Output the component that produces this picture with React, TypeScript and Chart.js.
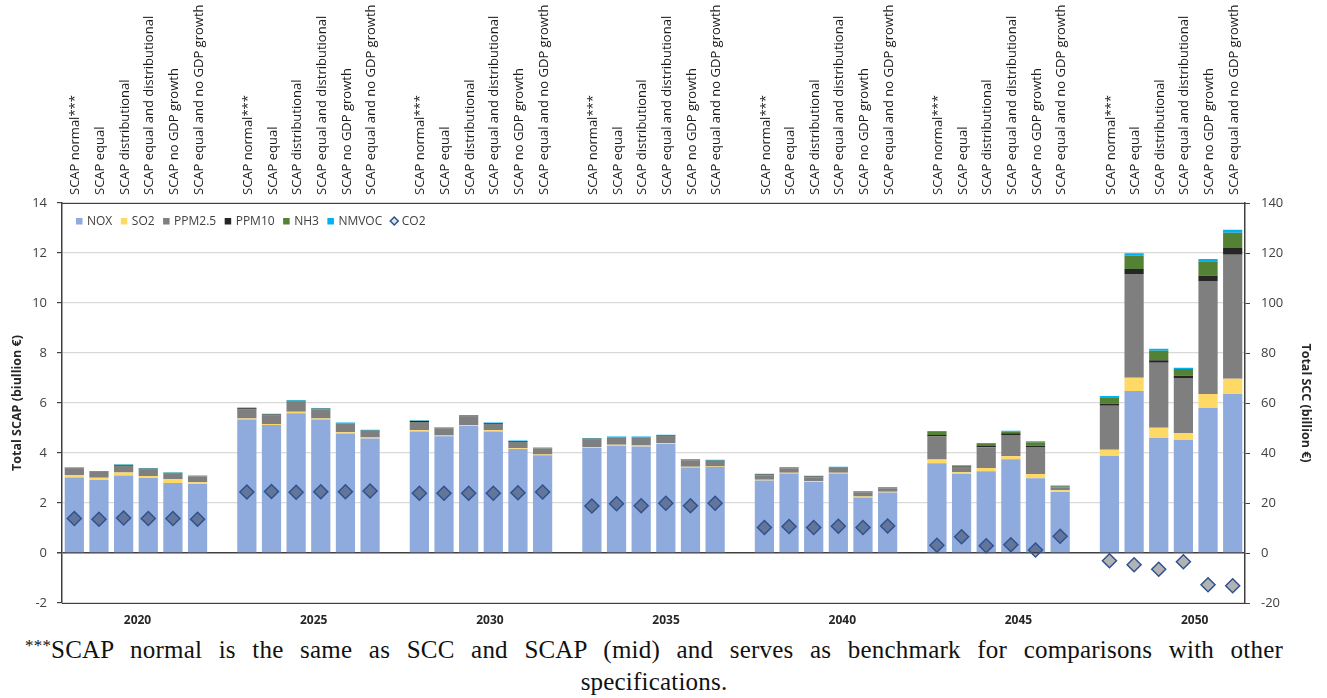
import React, { useEffect, useRef } from "react";
import { Chart, registerables } from "chart.js";

Chart.register(...registerables);

// ---- data ----
const groupYears = ["2020", "2025", "2030", "2035", "2040", "2045", "2050"];
const scenarios = [
  "SCAP normal***",
  "SCAP equal",
  "SCAP distributional",
  "SCAP equal and distributional",
  "SCAP no GDP growth",
  "SCAP equal and no GDP growth",
];

// values per year group (6 scenarios each), billion €
const nox = [
  3.02, 2.92, 3.10, 3.00, 2.80, 2.76,
  5.34, 5.12, 5.59, 5.34, 4.78, 4.58,
  4.86, 4.67, 5.08, 4.86, 4.16, 3.91,
  4.20, 4.29, 4.26, 4.36, 3.42, 3.44,
  2.90, 3.18, 2.84, 3.18, 2.22, 2.42,
  3.59, 3.17, 3.27, 3.75, 2.99, 2.44,
  3.88, 6.48, 4.60, 4.52, 5.80, 6.36,
];
const so2 = [
  0.10, 0.09, 0.12, 0.08, 0.15, 0.07,
  0.04, 0.04, 0.06, 0.04, 0.05, 0.04,
  0.05, 0.03, 0.04, 0.05, 0.03, 0.03,
  0.04, 0.04, 0.04, 0.04, 0.03, 0.02,
  0.03, 0.03, 0.03, 0.03, 0.04, 0.03,
  0.15, 0.06, 0.13, 0.12, 0.17, 0.07,
  0.25, 0.53, 0.41, 0.28, 0.56, 0.61,
];
const ppm25 = [
  0.26, 0.23, 0.27, 0.26, 0.23, 0.23,
  0.36, 0.34, 0.41, 0.37, 0.35, 0.26,
  0.33, 0.29, 0.34, 0.25, 0.25, 0.24,
  0.30, 0.28, 0.31, 0.28, 0.26, 0.22,
  0.18, 0.18, 0.16, 0.19, 0.17, 0.14,
  0.92, 0.21, 0.83, 0.85, 1.08, 0.12,
  1.76, 4.15, 2.60, 2.20, 4.52, 4.96,
];
const ppm10 = [
  0.02, 0.01, 0.03, 0.03, 0.02, 0.01,
  0.05, 0.04, 0.02, 0.02, 0.01, 0.01,
  0.04, 0.01, 0.03, 0.03, 0.03, 0.01,
  0.03, 0.01, 0.01, 0.02, 0.01, 0.01,
  0.03, 0.01, 0.03, 0.01, 0.01, 0.01,
  0.06, 0.02, 0.05, 0.07, 0.05, 0.02,
  0.08, 0.20, 0.10, 0.09, 0.21, 0.27,
];
const nh3 = [
  0.01, 0.01, 0.01, 0.01, 0.01, 0.01,
  0.01, 0.01, 0.01, 0.01, 0.01, 0.01,
  0.01, 0.01, 0.01, 0.01, 0.01, 0.01,
  0.01, 0.01, 0.01, 0.01, 0.01, 0.01,
  0.01, 0.01, 0.01, 0.01, 0.01, 0.01,
  0.12, 0.02, 0.08, 0.06, 0.14, 0.02,
  0.26, 0.53, 0.38, 0.27, 0.58, 0.61,
];
const nmvoc = [
  0.02, 0.02, 0.02, 0.02, 0.02, 0.02,
  0.02, 0.02, 0.03, 0.02, 0.02, 0.03,
  0.02, 0.02, 0.02, 0.02, 0.02, 0.02,
  0.02, 0.03, 0.03, 0.02, 0.03, 0.03,
  0.02, 0.03, 0.02, 0.03, 0.03, 0.03,
  0.04, 0.03, 0.04, 0.04, 0.04, 0.03,
  0.05, 0.10, 0.08, 0.05, 0.09, 0.12,
];
// CO2 on the right axis (Total SCC, billion €)
const co2 = [
  13.8, 13.5, 14.0, 13.8, 13.8, 13.5,
  24.4, 24.6, 24.3, 24.5, 24.5, 24.8,
  23.9, 23.9, 23.9, 23.9, 24.1, 24.4,
  18.8, 19.7, 18.9, 19.9, 18.9, 19.9,
  10.2, 10.6, 10.2, 10.7, 10.2, 10.8,
  3.1, 6.5, 2.9, 3.3, 1.2, 6.7,
  -3.1, -4.7, -6.5, -3.5, -12.7, -13.1,
];

const leftTicks = { min: -2, max: 14, step: 2 };
const rightTicks = { min: -20, max: 140, step: 20 };

// ---- helpers: one empty slot between year groups ----
const slotLabels: string[] = [];
groupYears.forEach((_, g) => {
  scenarios.forEach((s) => slotLabels.push(s));
  if (g < groupYears.length - 1) slotLabels.push("");
});
function spread(values: number[]): (number | null)[] {
  const out: (number | null)[] = [];
  groupYears.forEach((_, g) => {
    for (let i = 0; i < scenarios.length; i++) out.push(values[g * scenarios.length + i]);
    if (g < groupYears.length - 1) out.push(null);
  });
  return out;
}

const FONT = "'Open Sans', sans-serif";
const TXT = "#404040";

const insideLegend = {
  id: "insideLegend",
  afterDraw(chart: any) {
    const { ctx, chartArea } = chart;
    ctx.save();
    ctx.font = `12px ${FONT}`;
    ctx.textBaseline = "middle";
    let x = chartArea.left + 14;
    const y = chartArea.top + 18;
    chart.data.datasets.forEach((ds: any) => {
      if (ds.type === "line") {
        const r = 4;
        const cx = x + 3.5;
        ctx.beginPath();
        ctx.moveTo(cx - r, y);
        ctx.lineTo(cx, y - r);
        ctx.lineTo(cx + r, y);
        ctx.lineTo(cx, y + r);
        ctx.closePath();
        ctx.fillStyle = "#dfe3ea";
        ctx.fill();
        ctx.lineWidth = 1.5;
        ctx.strokeStyle = ds.borderColor;
        ctx.stroke();
      } else {
        ctx.fillStyle = ds.backgroundColor;
        ctx.fillRect(x, y - 3, 6.5, 6.5);
      }
      ctx.fillStyle = TXT;
      ctx.fillText(ds.label, x + 11, y + 0.5);
      x += 11 + ctx.measureText(ds.label).width + 8.5;
    });
    ctx.restore();
  },
};

function barSet(label: string, values: number[], color: string) {
  return {
    type: "bar" as const,
    label,
    data: spread(values),
    backgroundColor: color,
    borderWidth: 0,
    xAxisID: "x",
    yAxisID: "y",
    barPercentage: 0.78,
    categoryPercentage: 1.0,
    order: 1,
  };
}

export default function App() {
  const ref = useRef<HTMLCanvasElement>(null);
  useEffect(() => {
    document.body.style.margin = "0";
    document.body.style.overflow = "hidden";
    const chart = new Chart(ref.current as HTMLCanvasElement, {
      data: {
        labels: slotLabels,
        datasets: [
          barSet("NOX", nox, "#8faadc"),
          barSet("SO2", so2, "#ffd966"),
          barSet("PPM2.5", ppm25, "#7f7f7f"),
          barSet("PPM10", ppm10, "#262626"),
          barSet("NH3", nh3, "#548235"),
          barSet("NMVOC", nmvoc, "#00b0f0"),
          {
            type: "line" as const,
            label: "CO2",
            data: spread(co2),
            showLine: false,
            pointStyle: "rectRot",
            pointRadius: 7,
            pointHoverRadius: 7,
            backgroundColor: "rgba(0,0,0,0.3)",
            borderColor: "#2f528f",
            borderWidth: 1.5,
            xAxisID: "x",
            yAxisID: "y1",
            order: 0,
          },
        ],
      } as any,
      options: {
        responsive: false,
        animation: false,
        layout: { padding: { left: 6, right: 10, top: 0, bottom: 0 } },
        plugins: { legend: { display: false }, tooltip: { enabled: false } },
        scales: {
          x: {
            type: "category",
            position: "top",
            stacked: true,
            grid: { display: false, drawTicks: false },
            border: { display: true, color: "#404040", width: 1 },
            ticks: {
              autoSkip: false,
              minRotation: 90,
              maxRotation: 90,
              padding: 8,
              labelOffset: 17,
              color: "#1a1a1a",
              font: { family: FONT, size: 13 },
            },
            afterFit: (s: any) => { s.height = 203; },
          },
          xb: {
            type: "category",
            position: "bottom",
            grid: { display: false, drawTicks: false },
            border: { display: true, color: "#404040", width: 1 },
            ticks: {
              autoSkip: false,
              maxRotation: 0,
              minRotation: 0,
              padding: 10,
              color: "#262626",
              font: { family: FONT, size: 12, weight: "bold" },
              callback: (_v: any, i: number) =>
                i % (scenarios.length + 1) === 3 ? groupYears[Math.floor(i / (scenarios.length + 1))] : "",
            },
            afterFit: (s: any) => { s.height = 31; },
          },
          y: {
            position: "left",
            stacked: true,
            min: leftTicks.min,
            max: leftTicks.max,
            ticks: { stepSize: leftTicks.step, padding: 10, color: TXT, font: { family: FONT, size: 13 } },
            grid: {
              color: (c: any) => (c.tick && c.tick.value === 0 ? "#404040" : "#d9d9d9"),
              lineWidth: (c: any) => (c.tick && c.tick.value === 0 ? 1.5 : 1.2),
              tickColor: "#404040",
              tickLength: 5,
            },
            border: { color: "#404040", width: 1.5 },
            title: {
              display: true,
              text: "Total SCAP (biullion €)",
              color: "#262626",
              padding: { top: 4, bottom: 4 },
              font: { family: FONT, size: 12.5, weight: "bold" },
            },
            afterFit: (s: any) => { s.width = 56; },
          },
          y1: {
            position: "right",
            min: rightTicks.min,
            max: rightTicks.max,
            ticks: { stepSize: rightTicks.step, padding: 11, color: TXT, font: { family: FONT, size: 13 } },
            grid: { drawOnChartArea: false, tickColor: "#404040", tickLength: 5 },
            border: { color: "#404040", width: 1.5 },
            title: {
              display: true,
              text: "Total SCC (billion €)",
              color: "#262626",
              padding: { top: 4, bottom: 4 },
              font: { family: FONT, size: 12.5, weight: "bold" },
            },
            afterFit: (s: any) => { s.width = 72; },
          },
        },
      } as any,
      plugins: [insideLegend],
    });
    return () => chart.destroy();
  }, []);

  const capBase: React.CSSProperties = {
    fontFamily: "'Liberation Serif', serif",
    fontSize: 25,
    letterSpacing: "0.2px",
    lineHeight: "32px",
    color: "#111",
    marginLeft: 25,
    width: 1258,
  };
  return (
    <div style={{ width: 1327 }}>
      <canvas ref={ref} width={1327} height={634} style={{ display: "block", width: 1327, height: 634 }} />
      <div style={{ ...capBase, textAlign: "justify", textAlignLast: "justify" }}>
        <span style={{ fontSize: 17, verticalAlign: "7px", lineHeight: "0" }}>***</span>SCAP normal is the same as SCC and SCAP (mid) and serves as benchmark for comparisons with other
      </div>
      <div style={{ ...capBase, textAlign: "center" }}>specifications.</div>
    </div>
  );
}
